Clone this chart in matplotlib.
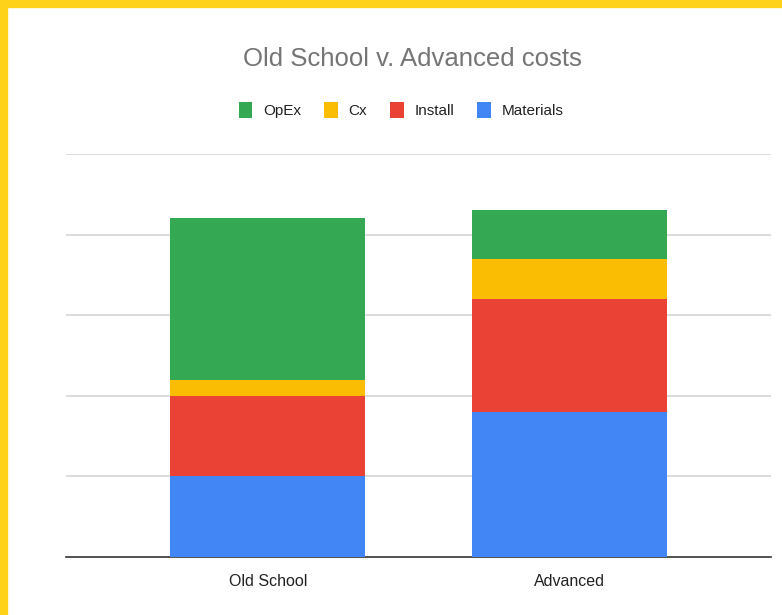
import matplotlib
matplotlib.use("Agg")
import matplotlib.pyplot as plt
from matplotlib.patches import Rectangle, Patch

plt.rcParams['font.family'] = ['Liberation Sans', 'DejaVu Sans']

# data (gridline step = 1 unit, no tick labels shown)
categories = ['Old School', 'Advanced']
materials = [1.0, 1.8]
install = [1.0, 1.4]
cx = [0.2, 0.5]
opex = [2.0, 0.6]

series_names = ['Materials', 'Install', 'Cx', 'OpEx']
series_vals = [materials, install, cx, opex]
colors = ['#4285F4', '#EA4335', '#FBBC04', '#34A853']

fig = plt.figure(figsize=(7.82, 6.15), dpi=100)
fig.patch.set_facecolor('white')

# yellow frame on left and top
fig.patches.append(Rectangle((0, 0), 7/782, 1, transform=fig.transFigure, color='#FFD21A', zorder=10))
fig.patches.append(Rectangle((0, 1 - 7/615), 1, 7/615, transform=fig.transFigure, color='#FFD21A', zorder=10))

ax = fig.add_axes([66/782, 1 - 557/615, (771 - 66)/782, (557 - 154)/615])
x = list(range(len(categories)))
bottom = [0.0] * len(categories)
for name, vals, c in zip(series_names, series_vals, colors):
    ax.bar(x, vals, width=0.648, bottom=bottom, color=c, label=name, zorder=3)
    bottom = [b + v for b, v in zip(bottom, vals)]

ax.set_xlim(-0.67, 1.67)
ax.set_ylim(0, 5)
ax.set_yticks([1, 2, 3, 4, 5])
ax.set_yticklabels([])
ax.tick_params(axis='y', length=0)
ax.yaxis.grid(True, color='#d6d6d6', linewidth=1.2)
ax.set_axisbelow(True)
ax.set_xticks(x)
ax.set_xticklabels(categories, fontsize=11.5, color='#222222')
ax.tick_params(axis='x', length=0, pad=12)
for s in ['top', 'right', 'left']:
    ax.spines[s].set_visible(False)
ax.spines['bottom'].set_color('#333333')
ax.spines['bottom'].set_linewidth(1.2)

fig.text(412/782, 1 - 59/615, 'Old School v. Advanced costs', ha='center', va='center',
         fontsize=18.5, color='#757575')

handles = [Patch(facecolor=c, label=n) for n, c in zip(series_names[::-1], colors[::-1])]
fig.legend(handles=handles, loc='center', bbox_to_anchor=(401/782, 1 - 110/615), ncol=4,
           frameon=False, fontsize=11, handlelength=0.9, handleheight=1.2,
           handletextpad=0.7, columnspacing=1.5, labelcolor='#222222')

fig.savefig('out.png', dpi=100)
